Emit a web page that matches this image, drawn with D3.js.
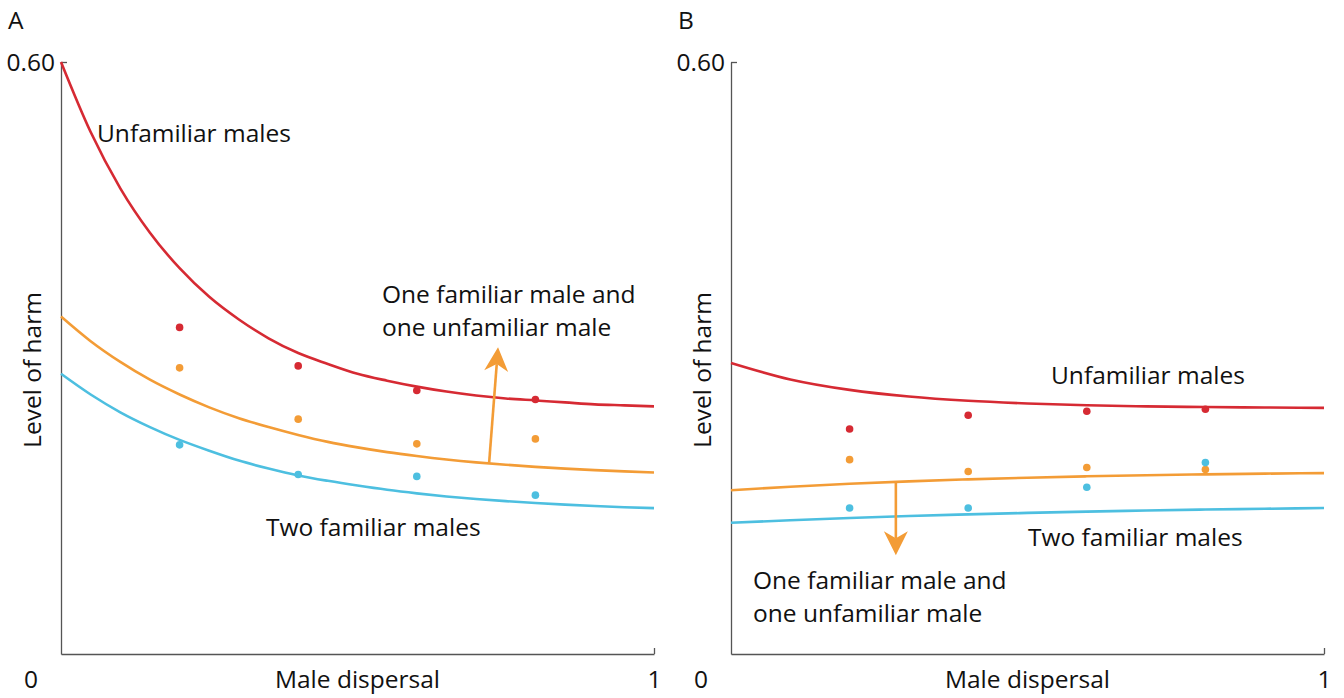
<!DOCTYPE html>
<html><head><meta charset="utf-8">
<script src="https://cdn.jsdelivr.net/npm/d3@7"></script>
<style>
html,body{margin:0;padding:0;background:#fff;}
text{font-family:"Open Sans",sans-serif;fill:#111;}
</style></head>
<body><svg id="c" width="1344" height="698"></svg>
<script>
// ---- data ----
const curveXA = [0,0.05,0.1,0.15,0.2,0.25,0.3,0.35,0.4,0.45,0.5,0.55,0.6,0.65,0.7,0.75,0.8,0.85,0.9,0.95,1];
const redA    = [0.600,0.529,0.472,0.427,0.391,0.362,0.339,0.320,0.305,0.294,0.284,0.277,0.271,0.266,0.262,0.259,0.257,0.255,0.253,0.252,0.251];
const orangeA = [0.342,0.317,0.296,0.278,0.263,0.250,0.239,0.230,0.222,0.215,0.2094,0.2046,0.2006,0.1971,0.1942,0.1918,0.1897,0.1879,0.1864,0.1851,0.184];
const blueA   = [0.284,0.263,0.245,0.230,0.217,0.206,0.196,0.188,0.181,0.1755,0.1707,0.1664,0.1628,0.1597,0.1571,0.1549,0.153,0.1514,0.150,0.1488,0.1478];

const curveXB = [0,0.1,0.2,0.3,0.4,0.5,0.6,0.7,0.8,0.9,1];
const redB    = [0.295,0.2783,0.2677,0.2609,0.2566,0.2539,0.2521,0.251,0.2503,0.2498,0.2495];
const orangeB = [0.166,0.1695,0.1725,0.175,0.177,0.1787,0.1801,0.1812,0.1821,0.1828,0.1833];
const blueB   = [0.133,0.1355,0.1378,0.1398,0.1415,0.143,0.1443,0.1454,0.1464,0.1472,0.148];

const dotX = [0.2,0.4,0.6,0.8];
const redDotsA    = [0.331,0.292,0.267,0.258];
const orangeDotsA = [0.290,0.238,0.213,0.218];
const blueDotsA   = [0.212,0.182,0.180,0.161];
const redDotsB    = [0.228,0.242,0.246,0.248];
const orangeDotsB = [0.197,0.185,0.189,0.187];
const blueDotsB   = [0.148,0.148,0.169,0.194];

const yTicks = [0.6];
const yTickLabels = ["0.60"];
const xTicks = [1];
const xTickLabels = ["1"];
const panelLetters = ["A","B"];
const xTitle = "Male dispersal";
const yTitle = "Level of harm";

// ---- styles ----
const RED = "#d62a33", ORANGE = "#f39c36", BLUE = "#4dbfe0", AXIS = "#555";
const FS = 24.5;

const svg = d3.select("#c");

function panel(cfg){
  const x = d3.scaleLinear().domain([0,1]).range([cfg.x0, cfg.x0+593]);
  const y = d3.scaleLinear().domain([0,0.6]).range([654,62]);
  const g = svg.append("g");

  // axes
  const ya = d3.axisLeft(y).tickValues(yTicks).tickFormat((d,i)=>yTickLabels[i])
    .tickSizeInner(-6).tickSizeOuter(0).tickPadding(6);
  const yg = g.append("g").attr("transform",`translate(${x(0)},0)`).call(ya);
  const xa = d3.axisBottom(x).tickValues(xTicks).tickFormat((d,i)=>xTickLabels[i])
    .tickSizeInner(-6).tickSizeOuter(0).tickPadding(17);
  const xg = g.append("g").attr("transform",`translate(0,${y(0)})`).call(xa);
  [yg,xg].forEach(a=>{
    a.select(".domain").attr("stroke",AXIS).attr("stroke-width",1.3);
    a.selectAll(".tick line").attr("stroke",AXIS).attr("stroke-width",1.3);
    a.selectAll(".tick text").style("font-size",FS+"px").attr("fill","#111")
      .style("font-family","'Open Sans',sans-serif");
  });
  yg.selectAll(".tick text").attr("dy","0.36em");
  xg.selectAll(".tick text").attr("dy","0.71em");

  g.append("text").attr("x",x(0)-30).attr("y",y(0)+34).attr("text-anchor","middle")
    .style("font-size",FS+"px").text("0");
  g.append("text").attr("x",(x(0)+x(1))/2).attr("y",y(0)+34).attr("text-anchor","middle")
    .style("font-size",FS+"px").text(xTitle);
  g.append("text").attr("transform",`translate(${x(0)-20},${(y(0)+y(0.6))/2+12}) rotate(-90)`)
    .attr("text-anchor","middle").style("font-size",FS+"px").text(yTitle);
  g.append("text").attr("x",x(0)-53).attr("y",29).style("font-size",FS+"px").text(cfg.letter);

  // curves
  const line = d3.line().x(d=>x(d[0])).y(d=>y(d[1])).curve(d3.curveMonotoneX);
  [[cfg.red,RED],[cfg.orange,ORANGE],[cfg.blue,BLUE]].forEach(([vals,col])=>{
    g.append("path").datum(cfg.cx.map((v,i)=>[v,vals[i]]))
      .attr("d",line).attr("fill","none").attr("stroke",col).attr("stroke-width",2.6);
  });

  // dots
  [[cfg.rd,RED],[cfg.od,ORANGE],[cfg.bd,BLUE]].forEach(([vals,col])=>{
    g.selectAll(null).data(dotX.map((v,i)=>[v,vals[i]])).join("circle")
      .attr("cx",d=>x(d[0])).attr("cy",d=>y(d[1])).attr("r",3.8).attr("fill",col);
  });

  // arrow
  const a = cfg.arrow;
  const x1=x(a.from[0]), y1=y(a.from[1]), x2=x(a.to[0]), y2=y(a.to[1]);
  const ang = Math.atan2(y2-y1,x2-x1);
  const ux=Math.cos(ang), uy=Math.sin(ang), px=-uy, py=ux;
  const notch=[x2-ux*17, y2-uy*17];
  g.append("line").attr("x1",x1).attr("y1",y1).attr("x2",notch[0]).attr("y2",notch[1])
    .attr("stroke",ORANGE).attr("stroke-width",2.6);
  const head = [[x2,y2],[x2-ux*24+px*12,y2-uy*24+py*12],notch,[x2-ux*24-px*12,y2-uy*24-py*12]];
  g.append("path").attr("d","M"+head.map(p=>p.join(",")).join("L")+"Z").attr("fill",ORANGE);

  // labels
  cfg.labels.forEach(l=>{
    g.append("text").attr("x",l.x).attr("y",l.y).style("font-size",FS+"px").text(l.t);
  });
}

panel({x0:61, letter:panelLetters[0], cx:curveXA, red:redA, orange:orangeA, blue:blueA,
  rd:redDotsA, od:orangeDotsA, bd:blueDotsA,
  arrow:{from:[0.722,0.194],to:[0.737,0.311]},
  labels:[{x:97,y:142,t:"Unfamiliar males"},{x:382,y:303,t:"One familiar male and"},
          {x:382,y:336,t:"one unfamiliar male"},{x:266,y:536,t:"Two familiar males"}]});
panel({x0:731, letter:panelLetters[1], cx:curveXB, red:redB, orange:orangeB, blue:blueB,
  rd:redDotsB, od:orangeDotsB, bd:blueDotsB,
  arrow:{from:[0.278,0.174],to:[0.278,0.100]},
  labels:[{x:1051,y:384,t:"Unfamiliar males"},{x:1028,y:546,t:"Two familiar males"},
          {x:753,y:589,t:"One familiar male and"},{x:753,y:622,t:"one unfamiliar male"}]});
</script></body></html>
